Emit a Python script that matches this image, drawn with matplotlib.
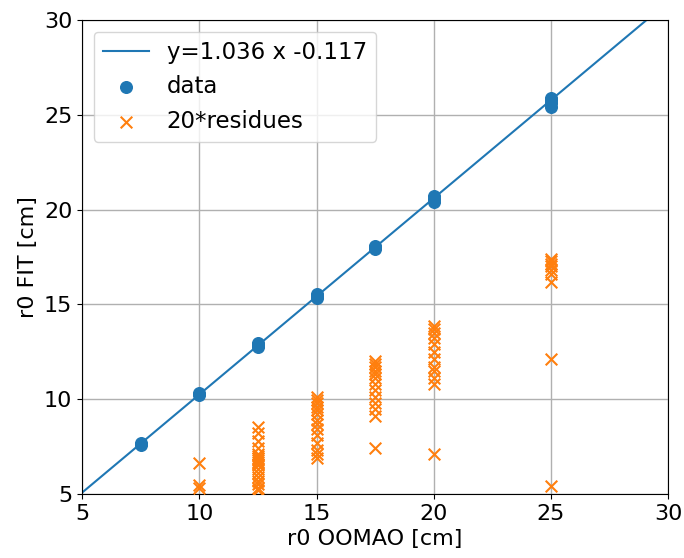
import matplotlib
matplotlib.use("Agg")
import matplotlib.pyplot as plt
import numpy as np

plt.rcParams['font.size'] = 16
plt.rcParams['font.family'] = ['DejaVu Sans']

slope = 1.036
intercept = -0.117

data_x = [7.5, 7.5, 10, 10, 12.5, 12.5, 12.5, 15, 15, 15, 17.5, 17.5, 17.5, 20, 20, 20, 25, 25, 25, 25]
data_y = [7.6, 7.7, 10.2, 10.3, 12.75, 12.85, 12.95, 15.35, 15.45, 15.55, 17.9, 18.0, 18.1, 20.4, 20.55, 20.7, 25.4, 25.6, 25.8, 25.9]

res_x12 = [12.5] * 18
res_y12 = [8.55, 8.2, 7.8, 7.4, 7.1, 7.0, 6.9, 6.8, 6.7, 6.6, 6.5, 6.3, 6.1, 5.9, 5.7, 5.5, 5.3, 5.2]
res_x10 = [10, 10, 10]
res_y10 = [6.65, 5.45, 5.3]
res_x15 = [15] * 14
res_y15 = [10.1, 9.95, 9.8, 9.6, 9.4, 9.2, 8.9, 8.7, 8.4, 8.1, 7.7, 7.3, 7.1, 6.9]
res_x17 = [17.5] * 13
res_y17 = [12.0, 11.85, 11.7, 11.5, 11.3, 11.1, 10.8, 10.5, 10.1, 9.8, 9.5, 9.1, 7.4]
res_x20 = [20] * 12
res_y20 = [13.85, 13.7, 13.5, 13.2, 12.9, 12.5, 12.1, 11.7, 11.5, 11.1, 10.8, 7.1]
res_x25 = [25] * 9
res_y25 = [17.4, 17.3, 17.15, 17.0, 16.8, 16.6, 16.2, 12.1, 5.4]

res_x = res_x10 + res_x12 + res_x15 + res_x17 + res_x20 + res_x25
res_y = res_y10 + res_y12 + res_y15 + res_y17 + res_y20 + res_y25

fig = plt.figure(figsize=(6.84, 5.58), dpi=100)
ax = fig.add_axes([0.12, 0.115, 0.857, 0.849])

lx = np.array([5, 30])
ax.plot(lx, slope * lx + intercept, color='#1f77b4', lw=1.5, label='y=%.3f x %.3f' % (slope, intercept), zorder=2)
ax.scatter(data_x, data_y, s=70, color='#1f77b4', label='data', zorder=3)
ax.scatter(res_x, res_y, s=70, marker='x', color='#ff7f0e', label='20*residues', zorder=3, linewidths=1.5)

ax.set_xlim(5, 30)
ax.set_ylim(5, 30)
ax.set_xticks([5, 10, 15, 20, 25, 30])
ax.set_yticks([5, 10, 15, 20, 25, 30])
ax.grid(True, color='#b0b0b0', lw=1)
ax.set_axisbelow(True)
ax.set_xlabel('r0 OOMAO [cm]')
ax.set_ylabel('r0 FIT [cm]')
ax.legend(loc='upper left', fontsize=16.5)

fig.savefig('out.png', dpi=100)
